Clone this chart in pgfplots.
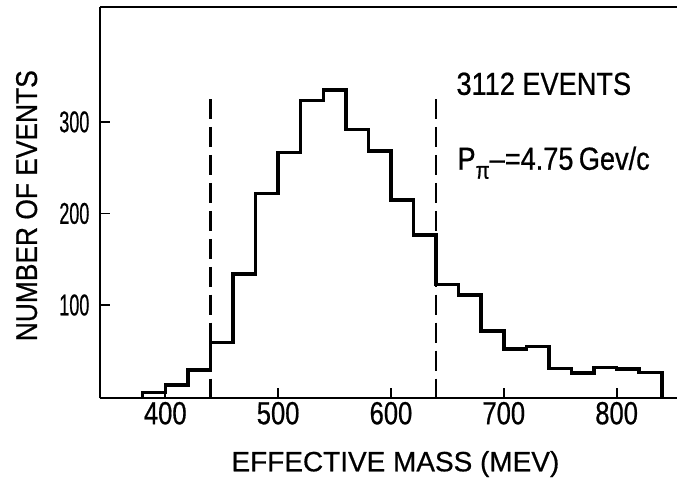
\documentclass[border=0pt]{standalone}
\usepackage{pgfplots}
\pgfplotsset{compat=1.18}
\usepackage{fontspec}
\setmainfont{Liberation Sans}[FakeBold=0.6]
\newfontfamily\cond{Liberation Sans}[FakeStretch=0.85, FakeBold=0.6]
\newfontfamily\xcond{Liberation Sans}[FakeStretch=0.8, FakeBold=0.6]
\newfontfamily\ycond{Liberation Sans}[FakeStretch=0.6, FakeBold=0.6]
\newfontfamily\lcond{Liberation Sans}[FakeStretch=0.88, FakeBold=0.6]
\newfontfamily\xlab{Liberation Sans}[FakeBold=0.6]
\begin{document}
\begin{tikzpicture}
\path (-100pt,-88pt) rectangle (578pt,399pt);
\begin{axis}[
  at={(0pt,0pt)}, anchor=south west,
  scale only axis,
  width=578pt, height=392pt,
  xmin=342, xmax=853.5,
  ymin=-2, ymax=425.5,
  axis lines=left,
  axis line style={-, line width=2pt},
  clip=false,
  tick align=inside,
  major tick length=10pt,
  every tick/.style={black, line width=1.8pt},
  xtick={400,500,600,700,800},
  ytick={100,200,300},
  /pgf/number format/assume math mode=true,
  xticklabel style={font=\fontsize{32}{32}\selectfont\xcond},
  yticklabel style={font=\fontsize{30}{30}\selectfont\ycond, xshift=-7pt},
]
\addplot[const plot, line width=3.5pt, black, line join=miter, mark=none] coordinates {
  (380,0) (380,4.4) (400,12.7) (420,29) (440,59) (460,134) (480,222)
  (500,266.5) (520,323.6) (540,335) (560,291.6) (580,268) (600,214.5)
  (620,176.4) (640,122.5) (660,111) (680,71.6) (700,52) (720,54.5)
  (740,30.5) (760,26) (780,31.6) (800,30) (820,26.5) (840,26.5) (840,0)
};
\addplot[line width=2.2pt, black, dash pattern=on 20pt off 8pt, mark=none] coordinates {(440,325) (440,0)};
\addplot[line width=2.2pt, black, dash pattern=on 20pt off 8pt, mark=none] coordinates {(640,325) (640,0)};
\draw[line width=2pt] (rel axis cs:0,1) -- (rel axis cs:1,1);
\end{axis}
\node[anchor=base west, inner sep=0pt, font=\fontsize{32}{32}\selectfont\cond] at (357pt,304pt) {3112 EVENTS};
\node[anchor=base west, inner sep=0pt, font=\fontsize{32}{32}\selectfont\cond] at (358pt,229pt) {P\raisebox{-0.28em}{\fontsize{24}{24}\selectfont π}–=4.75\,Gev/c};
\node[anchor=base, inner sep=0pt, rotate=90, font=\fontsize{30}{30}\selectfont\lcond] at (-63pt,193pt) {NUMBER OF EVENTS};
\node[anchor=base, inner sep=0pt, font=\fontsize{28}{28}\selectfont\xlab] at (296pt,-73pt) {EFFECTIVE MASS (MEV)};
\end{tikzpicture}
\end{document}
